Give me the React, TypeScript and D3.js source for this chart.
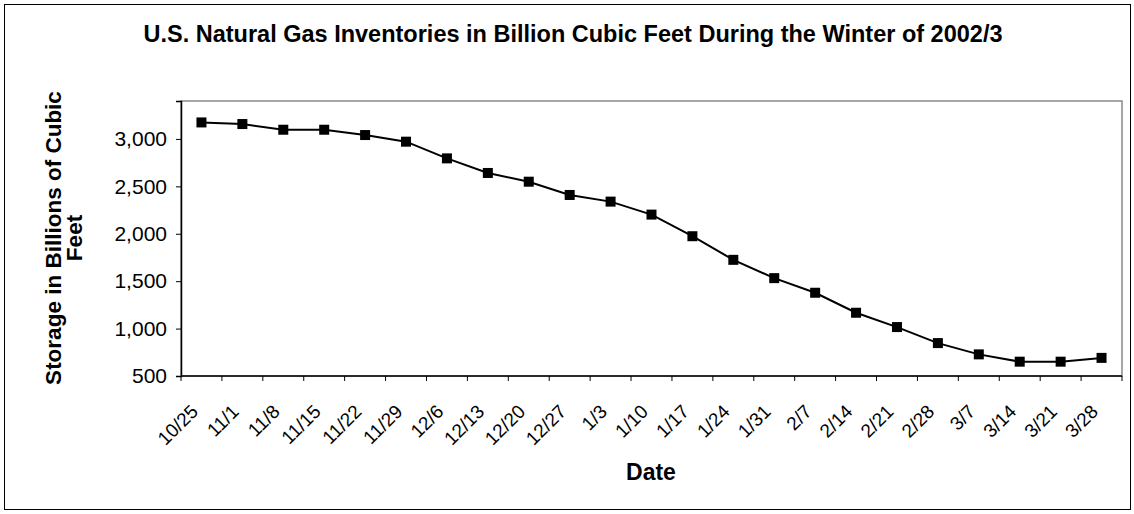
import React, { useEffect, useRef } from 'react';
import * as d3 from 'd3';

const categories = [
  '10/25', '11/1', '11/8', '11/15', '11/22', '11/29', '12/6', '12/13', '12/20', '12/27',
  '1/3', '1/10', '1/17', '1/24', '1/31', '2/7', '2/14', '2/21', '2/28', '3/7', '3/14', '3/21', '3/28',
];
const storage = [
  3174, 3157, 3097, 3097, 3041, 2971, 2795, 2641, 2549, 2409,
  2339, 2202, 1974, 1725, 1532, 1378, 1167, 1016, 847, 728, 651, 651, 691,
];
const yTicks = [500, 1000, 1500, 2000, 2500, 3000];

const W = 1134;
const H = 514;
const font = 'Arial, "Liberation Sans", sans-serif';

const App: React.FC = () => {
  const svgRef = useRef<SVGSVGElement>(null);

  useEffect(() => {
    document.body.style.margin = '0';
    if (!svgRef.current) return;
    const svg = d3.select(svgRef.current);
    svg.selectAll('*').remove();

    const left = 181, right = 1122, top = 101, bottom = 376;

    const x = d3.scaleBand<string>().domain(categories).range([left, right]).padding(0);
    const y = d3.scaleLinear().domain([500, 3400]).range([bottom, top]);

    // outer border
    svg.append('rect')
      .attr('x', 4.5).attr('y', 4.5)
      .attr('width', 1126).attr('height', 505)
      .attr('fill', '#fff').attr('stroke', '#000').attr('stroke-width', 1);

    // plot area border (top/right gray)
    svg.append('rect')
      .attr('x', left).attr('y', top)
      .attr('width', right - left).attr('height', bottom - top)
      .attr('fill', '#fff').attr('stroke', '#8a8a8a').attr('stroke-width', 1.5);

    // title
    svg.append('text')
      .attr('x', 573).attr('y', 41.5)
      .attr('text-anchor', 'middle')
      .attr('font-family', font).attr('font-weight', 'bold').attr('font-size', 23.5)
      .text('U.S. Natural Gas Inventories in Billion Cubic Feet During the Winter of 2002/3');

    // y axis
    const yAxis = d3.axisLeft(y).tickValues(yTicks).tickSize(5).tickPadding(9)
      .tickFormat(d => d3.format(',')(d as number));
    const gy = svg.append('g').attr('transform', `translate(${left},0)`).call(yAxis);
    gy.select('.domain').attr('stroke', '#000').attr('stroke-width', 1.5);
    gy.selectAll('.tick line').attr('stroke', '#000');
    gy.selectAll('.tick text').attr('font-family', font).attr('font-size', 21).attr('fill', '#000');

    // x axis (ticks between categories)
    const bounds = categories.map(c => x(c) as number).concat([right]);
    svg.append('line')
      .attr('x1', left).attr('x2', right).attr('y1', bottom).attr('y2', bottom)
      .attr('stroke', '#000').attr('stroke-width', 1.5);
    svg.append('g').selectAll('line').data(bounds).enter().append('line')
      .attr('x1', d => d).attr('x2', d => d)
      .attr('y1', bottom).attr('y2', bottom + 5)
      .attr('stroke', '#000');

    svg.append('g').selectAll('text').data(categories).enter().append('text')
      .attr('transform', d => `translate(${(x(d) as number) + x.bandwidth() / 2 - 7},${bottom + 32}) rotate(-45)`)
      .attr('text-anchor', 'end')
      .attr('dy', '0.35em')
      .attr('font-family', font).attr('font-size', 19)
      .text(d => d);

    // axis titles
    svg.append('text')
      .attr('x', 651).attr('y', 480)
      .attr('text-anchor', 'middle')
      .attr('font-family', font).attr('font-weight', 'bold').attr('font-size', 23)
      .text('Date');

    const yLabel = ['Storage in Billions of Cubic', 'Feet'];
    svg.append('g').selectAll('text').data(yLabel).enter().append('text')
      .attr('transform', (_d, i) => `translate(${i === 0 ? 61 : 82},238) rotate(-90)`)
      .attr('text-anchor', 'middle')
      .attr('font-family', font).attr('font-weight', 'bold').attr('font-size', 22.5)
      .text(d => d);

    // series
    const cx = (c: string) => (x(c) as number) + x.bandwidth() / 2;
    const line = d3.line<number>()
      .x((_d, i) => cx(categories[i]))
      .y(d => y(d));
    svg.append('path')
      .datum(storage)
      .attr('d', line)
      .attr('fill', 'none').attr('stroke', '#000').attr('stroke-width', 2);

    svg.append('g').selectAll('rect').data(storage).enter().append('rect')
      .attr('x', (_d, i) => cx(categories[i]) - 5)
      .attr('y', d => y(d) - 5)
      .attr('width', 10).attr('height', 10)
      .attr('fill', '#000');
  }, []);

  return <svg ref={svgRef} width={W} height={H} style={{ display: 'block', background: '#fff' }} />;
};

export default App;
